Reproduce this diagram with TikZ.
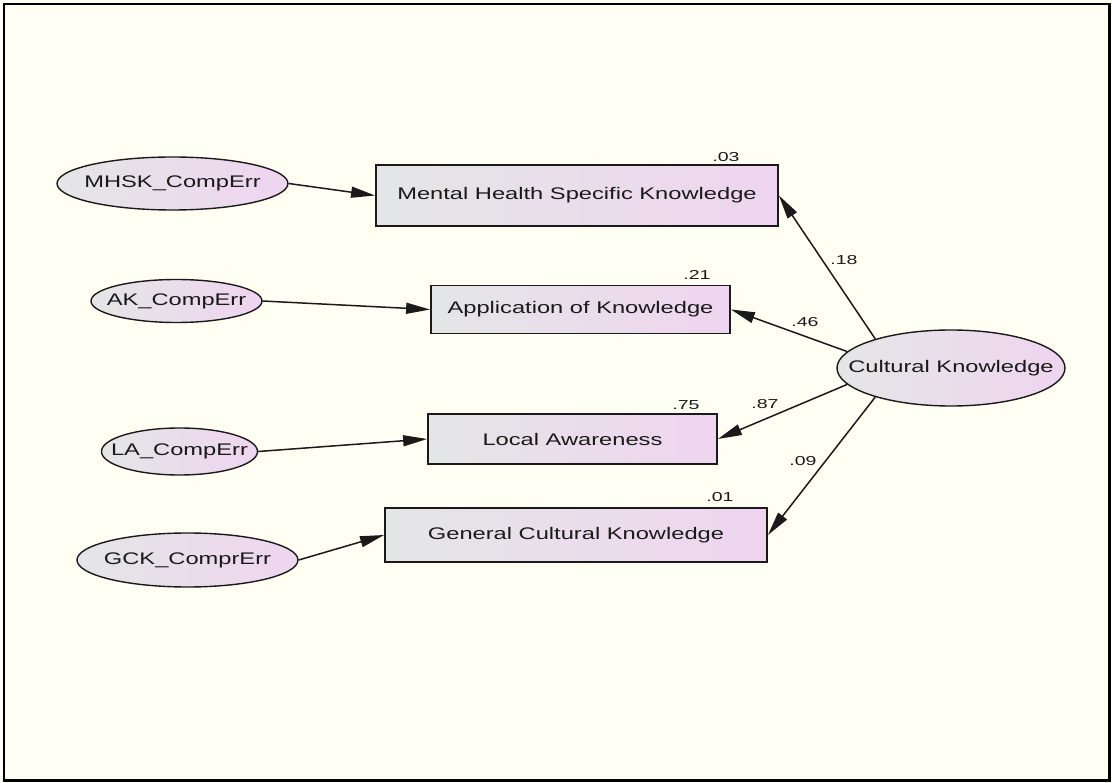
\documentclass[tikz,border=0pt]{standalone}
\usepackage{fontspec}
\setmainfont{Liberation Sans}
\usepackage{graphicx}
\usetikzlibrary{shapes.geometric,arrows.meta}
\definecolor{bgcream}{HTML}{FFFFF4}
\definecolor{fillgray}{HTML}{E4E6E6}
\definecolor{fillpink}{HTML}{EFD5EF}
\definecolor{inkc}{HTML}{1A1A1A}
\newcommand{\wtxt}[1]{\scalebox{1.48}[1.05]{\fontsize{16}{18}\selectfont #1}}
\newcommand{\etxt}[1]{\makebox[0pt]{\wtxt{#1}}}
\newcommand{\wnum}[1]{\scalebox{1.5}[1]{\fontsize{13}{14}\selectfont #1}}
\tikzset{
  obsbox/.style={draw=inkc, line width=1.8pt, rectangle, inner sep=0pt, left color=fillgray, right color=fillpink, text=inkc},
  latvar/.style={draw=inkc, line width=1.4pt, ellipse, inner sep=0pt, left color=fillgray, right color=fillpink, text=inkc},
  path/.style={draw=inkc, line width=1.5pt, -{Triangle[length=24pt,width=11pt]}},
  numlab/.style={text=inkc, inner sep=0pt}
}
\begin{document}
\begin{tikzpicture}[x=1pt,y=-1pt]
\useasboundingbox (0,0) rectangle (1112,783);
\fill[bgcream] (0,0) rectangle (1112,783);
\draw[black, line width=2.5pt] (4,4) rectangle (1109.5,780.5);

% observed boxes
\node[obsbox, minimum width=402pt, minimum height=61pt] (mh) at (577,195.5) {\wtxt{Mental Health Specific Knowledge}};
\node[obsbox, minimum width=299pt, minimum height=48pt] (ak) at (580.5,309.5) {\wtxt{Application of Knowledge}};
\node[obsbox, minimum width=289pt, minimum height=50pt] (la) at (572.5,439) {\wtxt{Local Awareness}};
\node[obsbox, minimum width=382pt, minimum height=54pt] (gck) at (576,535) {\wtxt{General Cultural Knowledge}};

% error ellipses
\node[latvar, minimum width=231pt, minimum height=53pt] (mhE) at (172.5,183.5) {\etxt{MHSK\_CompErr}};
\node[latvar, minimum width=171pt, minimum height=43pt] (akE) at (176.5,301) {\etxt{AK\_CompErr}};
\node[latvar, minimum width=156pt, minimum height=47pt] (laE) at (179.5,451.5) {\etxt{LA\_CompErr}};
\node[latvar, minimum width=221pt, minimum height=54pt] (gckE) at (187.5,560) {\etxt{GCK\_ComprErr}};

% latent
\node[latvar, minimum width=228pt, minimum height=76pt] (ck) at (951,368) {\etxt{Cultural Knowledge}};

% error paths
\draw[path] (mhE.east) -- (mh.west);
\draw[path] (akE.east) -- (ak.west);
\draw[path] (laE.east) -- (la.west);
\draw[path] (gckE.east) -- (gck.west);

% loadings
\draw[path] (ck.159.6) -- (mh.east);
\draw[path] (ck.171.3) -- (ak.east);
\draw[path] (ck.189.8) -- (la.east);
\draw[path] (ck.201) -- (gck.east);

% coefficient labels
\node[numlab] (l18) at (844,260) {\wnum{.18}};
\node[numlab] (l46) at (805,322) {\wnum{.46}};
\node[numlab] (l87) at (765,404) {\wnum{.87}};
\node[numlab] (l09) at (803,461) {\wnum{.09}};

% R-squared labels
\node[numlab] (r03) at (726,157) {\wnum{.03}};
\node[numlab] (r21) at (697,275) {\wnum{.21}};
\node[numlab] (r75) at (686,405) {\wnum{.75}};
\node[numlab] (r01) at (720,497) {\wnum{.01}};
\end{tikzpicture}
\end{document}
